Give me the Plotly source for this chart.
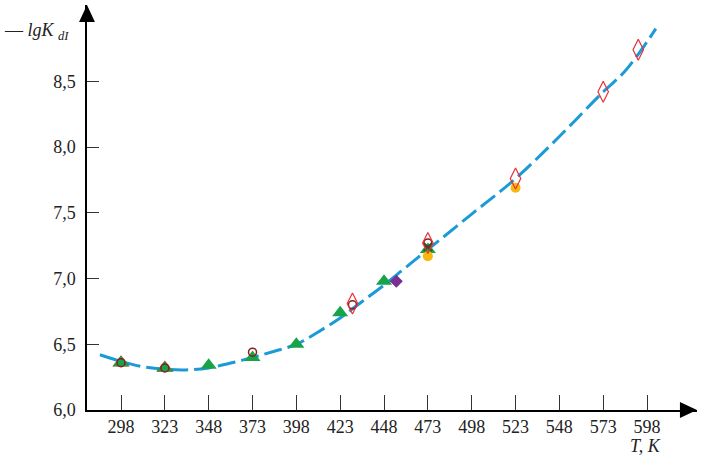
import plotly.graph_objects as go

# data
curve_T = [286, 298, 310, 323, 335, 348, 360, 373, 385, 398, 410, 423, 435, 448,
           460, 473, 498, 523, 548, 573, 585, 598, 603]
curve_lgK = [6.42, 6.37, 6.33, 6.31, 6.305, 6.32, 6.355, 6.40, 6.445, 6.50, 6.59, 6.70,
             6.82, 6.95, 7.08, 7.22, 7.49, 7.76, 8.08, 8.42, 8.57, 8.80, 8.90]

tri_T = [298, 323, 348, 373, 398, 423, 448, 473]
tri_lgK = [6.36, 6.32, 6.34, 6.40, 6.50, 6.74, 6.98, 7.22]

redtri_T = [298, 323]
redtri_lgK = [6.36, 6.32]

circ_T = [298, 323, 373, 430, 473]
circ_lgK = [6.36, 6.32, 6.44, 6.80, 7.27]

diam_T = [430, 473, 523, 573, 593]
diam_lgK = [6.81, 7.27, 7.76, 8.42, 8.74]

yellow_T = [473, 523]
yellow_lgK = [7.17, 7.69]

purple_T = [455]
purple_lgK = [6.98]

cross_T = [473]
cross_lgK = [7.24]

x_ticks = [298, 323, 348, 373, 398, 423, 448, 473, 498, 523, 548, 573, 598]
y_ticks = [6.0, 6.5, 7.0, 7.5, 8.0, 8.5]
y_ticktext = ["6,0", "6,5", "7,0", "7,5", "8,0", "8,5"]

serif = "Liberation Serif, DejaVu Serif, serif"

fig = go.Figure()

fig.add_trace(go.Scatter(x=curve_T, y=curve_lgK, mode="lines",
                         line=dict(color="#1b9ad8", width=3, shape="spline", dash="18px,6px"),
                         showlegend=False))
fig.add_trace(go.Scatter(x=redtri_T, y=redtri_lgK, mode="markers",
                         marker=dict(symbol="triangle-up", size=15, color="#b5432a"),
                         showlegend=False))
fig.add_trace(go.Scatter(x=tri_T, y=tri_lgK, mode="markers",
                         marker=dict(symbol="triangle-up", size=14, color="#17a34a"),
                         showlegend=False))
fig.add_trace(go.Scatter(x=yellow_T, y=yellow_lgK, mode="markers",
                         marker=dict(symbol="circle", size=10, color="#f5b90f"),
                         showlegend=False))
fig.add_trace(go.Scatter(x=purple_T, y=purple_lgK, mode="markers",
                         marker=dict(symbol="diamond", size=10, color="#7a2e91"),
                         showlegend=False))
fig.add_trace(go.Scatter(x=cross_T, y=cross_lgK, mode="markers",
                         marker=dict(symbol="x-thin-open", size=8, color="#2d5a2d",
                                     line=dict(color="#2d5a2d", width=2)),
                         showlegend=False))
fig.add_trace(go.Scatter(x=circ_T, y=circ_lgK, mode="markers",
                         marker=dict(symbol="circle-open", size=8, color="#8b1c1c",
                                     line=dict(color="#8b1c1c", width=1.5)),
                         showlegend=False))
fig.add_trace(go.Scatter(x=diam_T, y=diam_lgK, mode="markers",
                         marker=dict(symbol="diamond-tall-open", size=15, color="#e8303a",
                                     line=dict(color="#e8303a", width=1.2)),
                         showlegend=False))

fig.update_xaxes(range=[278.6, 626.5], tickvals=x_ticks, ticks="inside", ticklen=15,
                 tickcolor="#333", tickwidth=1.2, showline=True, linecolor="black", linewidth=1.5,
                 showgrid=False, zeroline=False, automargin=False,
                 tickfont=dict(family=serif, size=18, color="#222"))
fig.update_yaxes(range=[6.0, 9.08], tickvals=y_ticks, ticktext=y_ticktext, ticks="inside",
                 ticklen=12, tickcolor="#333", tickwidth=1.2, showline=True, linecolor="black",
                 linewidth=1.5, showgrid=False, zeroline=False, ticklabelstandoff=6,
                 automargin=False, tickfont=dict(family=serif, size=18, color="#222"))

# arrow heads on the axes
fig.add_shape(type="path", xref="paper", yref="paper",
              path="M 0.972 0.02 L 1.0 0 L 0.972 -0.02 Z", fillcolor="black", line=dict(width=0))
fig.add_shape(type="path", xref="paper", yref="paper",
              path="M -0.013 0.958 L 0 1.0 L 0.013 0.958 Z", fillcolor="black", line=dict(width=0))

fig.add_annotation(xref="paper", yref="paper", x=-0.14, y=0.935, xanchor="left", yanchor="middle",
                   text="— <i>lgK</i> <sub><i>dI</i></sub>", showarrow=False,
                   font=dict(family=serif, size=18, color="#222"))
fig.add_annotation(xref="paper", yref="paper", x=0.887, y=-0.09, xanchor="left", yanchor="middle",
                   text="<i>T, K</i>", showarrow=False,
                   font=dict(family=serif, size=18, color="#222"))

fig.update_layout(width=707, height=460, margin=dict(l=87, r=10, t=5, b=50),
                  font=dict(family=serif), plot_bgcolor="white", paper_bgcolor="white")

fig.write_html("out.html", config={"displayModeBar": False},
               post_script="document.body.style.margin='0';")
